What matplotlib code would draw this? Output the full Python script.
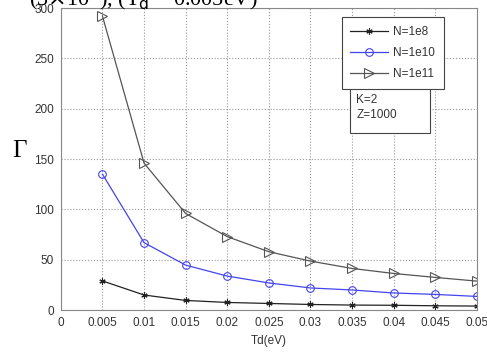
import numpy as np
import matplotlib.pyplot as plt
from matplotlib.patches import Rectangle

td = [0.005, 0.01, 0.015, 0.02, 0.025, 0.03, 0.035, 0.04, 0.045, 0.05]
gamma_1e8 = [29, 15, 9.6, 7.6, 6.6, 5.6, 5.0, 4.8, 4.3, 4.0]
gamma_1e10 = [135, 67, 44.7, 33.8, 27, 22, 20, 17, 15.6, 13.6]
gamma_1e11 = [292, 146, 96, 73, 58, 48.7, 41.4, 36.4, 32.5, 28.8]

xticks = [0, 0.005, 0.01, 0.015, 0.02, 0.025, 0.03, 0.035, 0.04, 0.045, 0.05]
xticklabels = ["0", "0.005", "0.01", "0.015", "0.02", "0.025", "0.03", "0.035", "0.04", "0.045", "0.05"]
yticks = [0, 50, 100, 150, 200, 250, 300]

plt.rcParams['font.family'] = ['Liberation Sans', 'DejaVu Sans']

fig = plt.figure(figsize=(4.87, 3.54), dpi=100)
ax = fig.add_axes([0.125, 0.124, 0.854, 0.853])

ax.plot(td, gamma_1e8, color='#222222', lw=0.9, marker=(6, 2, 0), ms=4.5, mew=0.8, label='N=1e8')
ax.plot(td, gamma_1e10, color='#4444ee', lw=0.9, marker='o', ms=5.5, mfc='none', mew=0.8, label='N=1e10')
ax.plot(td, gamma_1e11, color='#555555', lw=0.9, marker='>', ms=6.5, mfc='none', mew=0.8, label='N=1e11')

ax.set_xlim(0, 0.05)
ax.set_ylim(0, 300)
ax.set_xticks(xticks)
ax.set_xticklabels(xticklabels)
ax.set_yticks(yticks)
ax.tick_params(labelsize=8.5, colors='#333333', length=0, pad=5)
ax.grid(True, linestyle=':', color='#999999', lw=0.8)
for s in ax.spines.values():
    s.set_color('#888888')

ax.set_xlabel('Td(eV)', fontsize=8.5, color='#333333', labelpad=4)
fig.text(0.041, 0.573, 'Γ', fontsize=18, ha='center', va='center',
         family=['Liberation Serif', 'DejaVu Serif'])

# annotation box below legend
ax.add_patch(Rectangle((0.695, 0.586), 0.192, 0.16, transform=ax.transAxes,
                       fc='white', ec='#444444', lw=0.8, zorder=4))
ax.text(0.71, 0.715, 'K=2\nZ=1000', transform=ax.transAxes, fontsize=8.5,
        color='#333333', va='top', linespacing=1.35, zorder=5)

leg = ax.legend(loc='upper left', bbox_to_anchor=(0.675, 0.970), borderaxespad=0,
                fontsize=8.5, fancybox=False, edgecolor='#444444', framealpha=1,
                handlelength=3.2, handletextpad=0.4, borderpad=0.75, labelspacing=0.75)
leg.get_frame().set_linewidth(0.8)
leg.set_zorder(6)
for t in leg.get_texts():
    t.set_color('#333333')

fig.text(0.06, 1.005, r'(3$\times$10$^{8}$), (T$_{\rm d}$ = 0.005eV)', fontsize=16,
         va='center', family=['Liberation Serif', 'DejaVu Serif'])

fig.savefig('out.png', dpi=100)
